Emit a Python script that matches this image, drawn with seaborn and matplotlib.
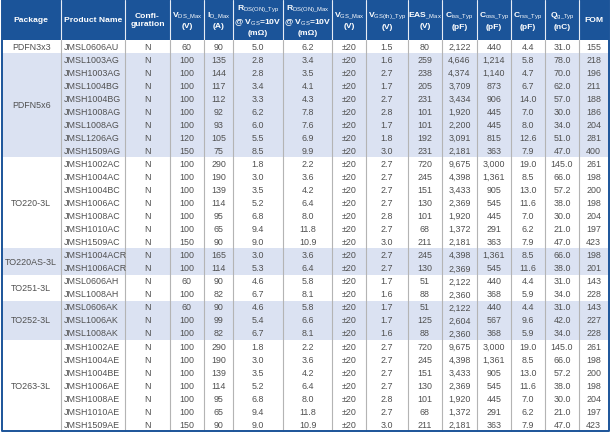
import matplotlib
matplotlib.use("Agg")
import matplotlib.pyplot as plt
import seaborn as sns

sns.set_theme(style="white")
plt.rcParams["font.family"] = ["Liberation Sans", "DejaVu Sans"]
plt.rcParams["mathtext.fontset"] = "custom"
plt.rcParams["mathtext.rm"] = "Liberation Sans"
plt.rcParams["mathtext.bf"] = "Liberation Sans:bold"

# ---- data ----
headers = [
    "Package",
    "Product Name",
    "Confi-\nguration",
    "V$_{\\mathrm{DS\\_Max}}$\n(V)",
    "I$_{\\mathrm{D\\_Max}}$\n(A)",
    "R$_{\\mathrm{DS(ON)\\_Typ}}$\n@ V$_{\\mathrm{GS}}$=10V\n(m\u03a9)",
    "R$_{\\mathrm{DS(ON)\\_Max}}$\n@ V$_{\\mathrm{GS}}$=10V\n(m\u03a9)",
    "V$_{\\mathrm{GS\\_Max}}$\n(V)",
    "V$_{\\mathrm{GS(th)\\_Typ}}$\n(V)",
    "EAS$_{\\mathrm{\\_Max}}$\n(V)",
    "C$_{\\mathrm{iss\\_Typ}}$\n(pF)",
    "C$_{\\mathrm{oss\\_Typ}}$\n(pF)",
    "C$_{\\mathrm{rss\\_Typ}}$\n(pF)",
    "Q$_{\\mathrm{g\\_Typ}}$\n(nC)",
    "FOM",
]

packages = ["PDFN3x3", "PDFN5x6", "TO220-3L", "TO220AS-3L", "TO251-3L", "TO252-3L", "TO263-3L"]
package_rows = [1, 8, 7, 2, 2, 3, 7]
package_shaded = [False, True, False, True, False, True, False]

products = [
    "JMSL0606AU",
    "JMSL1003AG", "JMSH1003AG", "JMSL1004BG", "JMSH1004BG", "JMSH1008AG", "JMSL1008AG", "JMSL1206AG", "JMSH1509AG",
    "JMSH1002AC", "JMSH1004AC", "JMSH1004BC", "JMSH1006AC", "JMSH1008AC", "JMSH1010AC", "JMSH1509AC",
    "JMSH1004ACR", "JMSH1006ACR",
    "JMSL0606AH", "JMSL1008AH",
    "JMSL0606AK", "JMSL1006AK", "JMSL1008AK",
    "JMSH1002AE", "JMSH1004AE", "JMSH1004BE", "JMSH1006AE", "JMSH1008AE", "JMSH1010AE", "JMSH1509AE",
]
config = ["N"] * 30
vds_max = [60, 100, 100, 100, 100, 100, 100, 120, 150,
           100, 100, 100, 100, 100, 100, 150, 100, 100, 60, 100, 60, 100, 100,
           100, 100, 100, 100, 100, 100, 150]
id_max = [90, 135, 144, 117, 112, 92, 93, 105, 75,
          290, 190, 139, 114, 95, 65, 90, 165, 114, 90, 82, 90, 99, 82,
          290, 190, 139, 114, 95, 65, 90]
rds_typ = ["5.0", "2.8", "2.8", "3.4", "3.3", "6.2", "6.0", "5.5", "8.5",
           "1.8", "3.0", "3.5", "5.2", "6.8", "9.4", "9.0", "3.0", "5.3", "4.6", "6.7", "4.6", "5.4", "6.7",
           "1.8", "3.0", "3.5", "5.2", "6.8", "9.4", "9.0"]
rds_max = ["6.2", "3.4", "3.5", "4.1", "4.3", "7.8", "7.6", "6.9", "9.9",
           "2.2", "3.6", "4.2", "6.4", "8.0", "11.8", "10.9", "3.6", "6.4", "5.8", "8.1", "5.8", "6.6", "8.1",
           "2.2", "3.6", "4.2", "6.4", "8.0", "11.8", "10.9"]
vgs_max = ["\u00b120"] * 30
vgs_th = ["1.5", "1.6", "2.7", "1.7", "2.7", "2.8", "1.7", "1.8", "3.0",
          "2.7", "2.7", "2.7", "2.7", "2.8", "2.7", "3.0", "2.7", "2.7", "1.7", "1.6", "1.7", "1.7", "1.6",
          "2.7", "2.7", "2.7", "2.7", "2.8", "2.7", "3.0"]
eas_max = [80, 259, 238, 205, 231, 101, 101, 192, 231,
           720, 245, 151, 130, 101, 68, 211, 245, 130, 51, 88, 51, 125, 88,
           720, 245, 151, 130, 101, 68, 211]
ciss = ["2,122", "4,646", "4,374", "3,709", "3,434", "1,920", "2,200", "3,091", "2,181",
        "9,675", "4,398", "3,433", "2,369", "1,920", "1,372", "2,181", "4,398", "2,369",
        "2,122", "2,360", "2,122", "2,604", "2,360",
        "9,675", "4,398", "3,433", "2,369", "1,920", "1,372", "2,181"]
coss = ["440", "1,214", "1,140", "873", "906", "445", "445", "815", "363",
        "3,000", "1,361", "905", "545", "445", "291", "363", "1,361", "545",
        "440", "368", "440", "567", "368",
        "3,000", "1,361", "905", "545", "445", "291", "363"]
crss = ["4.4", "5.8", "4.7", "6.7", "14.0", "7.0", "8.0", "12.6", "7.9",
        "19.0", "8.5", "13.0", "11.6", "7.0", "6.2", "7.9", "8.5", "11.6",
        "4.4", "5.9", "4.4", "9.6", "5.9",
        "19.0", "8.5", "13.0", "11.6", "7.0", "6.2", "7.9"]
qg = ["31.0", "78.0", "70.0", "62.0", "57.0", "30.0", "34.0", "51.0", "47.0",
      "145.0", "66.0", "57.2", "38.0", "30.0", "21.0", "47.0", "66.0", "38.0",
      "31.0", "34.0", "31.0", "42.0", "34.0",
      "145.0", "66.0", "57.2", "38.0", "30.0", "21.0", "47.0"]
fom = [155, 218, 196, 211, 188, 186, 204, 281, 400,
       261, 198, 200, 198, 204, 197, 423, 198, 201,
       143, 228, 143, 227, 228,
       261, 198, 200, 198, 204, 197, 423]

# ---- layout (pixels) ----
col_edges = [1.5, 61, 125, 170, 204, 233, 283, 332, 366, 408, 442, 477, 511, 545, 579, 608.5]
header_h = 40
row_h = 13.03
base_off = 3.3  # baseline sits a bit below the row centre

head_blue = "#1b5499"
shade_blue = "#dbe2f2"
text_grey = "#505050"
line_grey = "#b4b4b4"

fig = plt.figure(figsize=(6.1, 4.33), dpi=100)
ax = fig.add_axes([0, 0, 1, 1])
ax.set_xlim(0, 610)
ax.set_ylim(433, 0)
ax.axis("off")

n_rows = len(products)
body_bottom = header_h + n_rows * row_h

# header background
ax.fill_between([col_edges[0], col_edges[-1]], 0, header_h, color=head_blue, lw=0)

# body shading per package group
start = 0
group_spans = []
for pkg, n, shaded in zip(packages, package_rows, package_shaded):
    y0 = header_h + start * row_h
    y1 = y0 + n * row_h
    if shaded:
        ax.fill_between([col_edges[0], col_edges[-1]], y0, y1, color=shade_blue, lw=0)
    group_spans.append((pkg, y0, y1))
    start += n

# vertical separators
for x in col_edges[1:-1]:
    ax.plot([x, x], [0, header_h], color="#e6ecf5", lw=0.8)
    ax.plot([x, x], [header_h, body_bottom], color=line_grey, lw=0.8)

# outer border
ax.plot([col_edges[0], col_edges[0], col_edges[-1], col_edges[-1]],
        [0, body_bottom, body_bottom, 0], color=head_blue, lw=1.4)

# header text
for i, h in enumerate(headers):
    xc = (col_edges[i] + col_edges[i + 1]) / 2
    ax.text(xc, header_h / 2 + 0.5, h, ha="center", va="center", color="white",
            fontsize=6.1, fontweight="bold", linespacing=1.4)

# package labels
for pkg, y0, y1 in group_spans:
    xc = (col_edges[0] + col_edges[1]) / 2
    ax.text(xc, (y0 + y1) / 2 + base_off, pkg, ha="center", va="baseline",
            color=text_grey, fontsize=6.4)

# body values
columns = [config, vds_max, id_max, rds_typ, rds_max, vgs_max, vgs_th, eas_max,
           ciss, coss, crss, qg, fom]
for r in range(n_rows):
    yb = header_h + (r + 0.5) * row_h + base_off
    ax.text(col_edges[1] + 3, yb, products[r], ha="left", va="baseline",
            color=text_grey, fontsize=6.4)
    for c, col in enumerate(columns):
        xc = (col_edges[c + 2] + col_edges[c + 3]) / 2
        ax.text(xc, yb, str(col[r]), ha="center", va="baseline",
                color=text_grey, fontsize=6.4)

fig.savefig("out.png", dpi=100)
